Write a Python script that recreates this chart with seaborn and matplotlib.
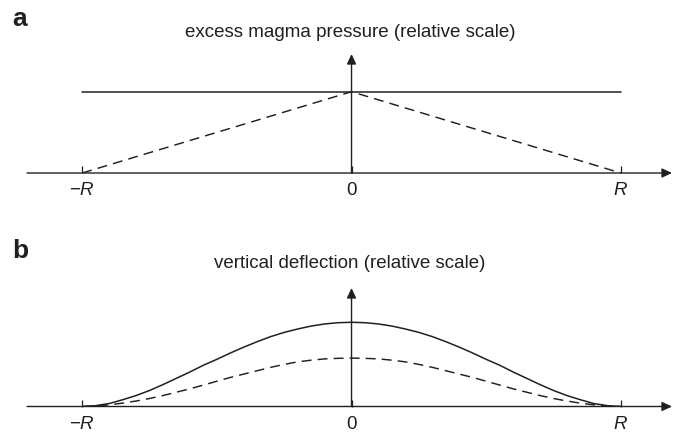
import matplotlib
matplotlib.use("Agg")
import matplotlib.pyplot as plt
import seaborn as sns
import pandas as pd

# radial position in units of R
r = [-1.0, -0.95, -0.9, -0.85, -0.8, -0.75, -0.7, -0.65, -0.6, -0.55, -0.5,
     -0.45, -0.4, -0.35, -0.3, -0.25, -0.2, -0.15, -0.1, -0.05, 0.0,
     0.05, 0.1, 0.15, 0.2, 0.25, 0.3, 0.35, 0.4, 0.45, 0.5,
     0.55, 0.6, 0.65, 0.7, 0.75, 0.8, 0.85, 0.9, 0.95, 1.0]

# panel a: excess magma pressure (relative)
pressure_r = [-1.0, 1.0]
pressure_uniform = [1.0, 1.0]
pressure_tri_r = [-1.0, 0.0, 1.0]
pressure_tri = [0.0, 1.0, 0.0]

# panel b: vertical deflection (relative)
deflect_uniform = [0.0, 0.01, 0.035, 0.08, 0.13, 0.19, 0.26, 0.335, 0.41, 0.49, 0.56,
                   0.635, 0.705, 0.77, 0.83, 0.88, 0.92, 0.955, 0.98, 0.995, 1.0,
                   0.995, 0.98, 0.955, 0.92, 0.88, 0.83, 0.77, 0.705, 0.635, 0.56,
                   0.49, 0.41, 0.335, 0.26, 0.19, 0.13, 0.08, 0.035, 0.01, 0.0]
deflect_tri = [0.0, 0.006, 0.02, 0.04, 0.065, 0.095, 0.13, 0.17, 0.21, 0.255, 0.30,
               0.345, 0.385, 0.425, 0.465, 0.50, 0.53, 0.55, 0.565, 0.572, 0.575,
               0.572, 0.565, 0.55, 0.53, 0.50, 0.465, 0.425, 0.385, 0.345, 0.30,
               0.255, 0.21, 0.17, 0.13, 0.095, 0.065, 0.04, 0.02, 0.006, 0.0]

tick_pos = [-1, 0, 1]
tick_labels = ["$-R$", "0", "$R$"]
titles = ["excess magma pressure (relative scale)", "vertical deflection (relative scale)"]
letters = ["a", "b"]

sns.set_style("white")
plt.rcParams['font.family'] = ['Liberation Sans', 'DejaVu Sans']
plt.rcParams['mathtext.fontset'] = 'custom'
plt.rcParams['mathtext.rm'] = 'Liberation Sans'
plt.rcParams['mathtext.it'] = 'Liberation Sans:italic'

ink = '#231f20'
dash = (0, (6.8, 4.2))

fig = plt.figure(figsize=(6.74, 4.35), dpi=100)
ax_a = fig.add_axes([27 / 674, 1 - 174 / 435, 645 / 674, 119 / 435])
ax_b = fig.add_axes([27 / 674, 1 - 407.5 / 435, 645 / 674, 118.5 / 435])

sns.lineplot(x=pressure_r, y=pressure_uniform, ax=ax_a, color=ink, lw=1.1)
sns.lineplot(x=pressure_tri_r, y=pressure_tri, ax=ax_a, color=ink, lw=1.05,
             linestyle=dash)
ax_a.set_ylim(0, 1.464)

df = pd.DataFrame({'r': r, 'uniform': deflect_uniform, 'tri': deflect_tri})
sns.lineplot(data=df, x='r', y='uniform', ax=ax_b, color=ink, lw=1.1)
sns.lineplot(data=df, x='r', y='tri', ax=ax_b, color=ink, lw=1.05, linestyle=dash)
ax_b.set_ylim(0, 1.407)

arrow = dict(arrowstyle='-|>,head_length=0.6,head_width=0.28', color=ink,
             lw=1.0, shrinkA=0, shrinkB=0, mutation_scale=10)

for ax in (ax_a, ax_b):
    ax.set_xlim(-1.205, 1.19)
    top = ax.get_ylim()[1]
    ax.patch.set_alpha(0)
    for s in ax.spines.values():
        s.set_visible(False)
    ax.set_xlabel('')
    ax.set_ylabel('')
    ax.set_yticks([])
    ax.set_xticks(tick_pos)
    ax.set_xticklabels(tick_labels)
    ax.tick_params(axis='x', direction='in', length=5, width=0.9, color=ink,
                   pad=6, labelsize=13.5, labelcolor=ink, bottom=True)
    ax.annotate('', xy=(1.19, 0), xytext=(-1.205, 0), arrowprops=arrow,
                annotation_clip=False)
    ax.annotate('', xy=(0, top), xytext=(0, 0), arrowprops=arrow,
                annotation_clip=False)

fig.text(350 / 674, 1 - 36.7 / 435, titles[0], ha='center', va='baseline',
         fontsize=13.5, color=ink)
fig.text(350 / 674, 1 - 268 / 435, titles[1], ha='center', va='baseline',
         fontsize=13.5, color=ink)
fig.text(12 / 674, 1 - 26 / 435, letters[0], ha='left', va='baseline',
         fontsize=19, fontweight='bold', color=ink)
fig.text(12 / 674, 1 - 258 / 435, letters[1], ha='left', va='baseline',
         fontsize=19, fontweight='bold', color=ink)

fig.savefig('out.png', dpi=100)
